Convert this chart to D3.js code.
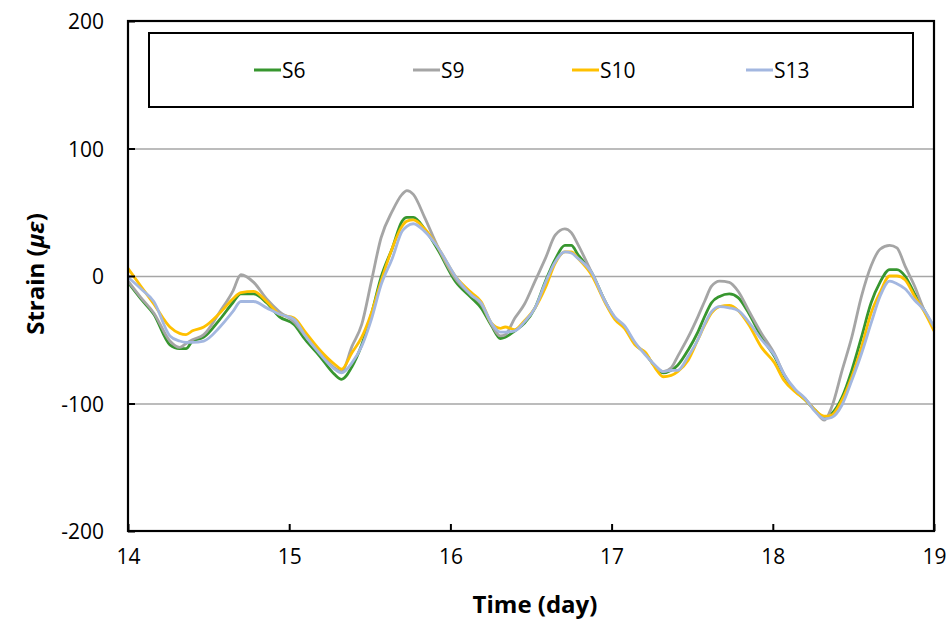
<!DOCTYPE html>
<html>
<head>
<meta charset="utf-8">
<script src="https://cdn.jsdelivr.net/npm/d3@7"></script>
<style>
body{margin:0;background:#fff;}
svg text{font-family:"Open Sans","Liberation Sans",sans-serif;fill:#000;}
</style>
</head>
<body>
<svg id="chart" width="952" height="622"></svg>
<script>
// time (day) sampled along the plot, and strain readings per gauge
var days = [14.00,14.08,14.16,14.26,14.32,14.36,14.40,14.47,14.57,14.65,14.70,14.78,14.86,14.94,15.03,15.10,15.19,15.28,15.325,15.39,15.45,15.51,15.57,15.64,15.70,15.73,15.77,15.84,15.925,16.03,16.13,16.19,16.255,16.31,16.34,16.40,16.46,16.525,16.59,16.65,16.71,16.75,16.79,16.875,16.96,17.02,17.08,17.145,17.21,17.27,17.32,17.37,17.41,17.475,17.535,17.58,17.62,17.67,17.73,17.785,17.85,17.93,18.01,18.07,18.14,18.20,18.26,18.32,18.365,18.43,18.49,18.55,18.61,18.665,18.725,18.77,18.82,18.88,18.94,19.00];

var S6  = [-5,-18,-30,-54,-57,-57,-51,-48,-34,-21,-14,-14,-21,-32,-38,-50,-63,-77,-81,-71,-54,-30,-1,22,43,46,46,37,20,-4,-17,-25,-39,-49,-48,-43,-37,-25,-4,13,24,24,17,3,-20,-33,-40,-53,-61,-71,-76,-74,-70,-58,-44,-31,-21,-16,-14,-17,-29,-48,-63,-78,-90,-97,-105,-111,-108,-95,-74,-48,-21,-5,5,5,0,-14,-27,-41];
var S9  = [-4,-17,-29,-51,-56,-53,-50,-46,-28,-12,1,-5,-18,-28,-36,-47,-60,-72,-75,-55,-38,-4,30,51,64,67,64,46,22,-2,-15,-22,-38,-47,-46,-33,-22,-4,14,32,37,34,25,3,-20,-33,-40,-53,-61,-71,-75,-72,-63,-48,-32,-19,-8,-4,-5,-12,-27,-45,-61,-77,-90,-96,-105,-113,-103,-74,-48,-16,8,21,24,22,8,-8,-27,-40];
var S10 = [6,-8,-22,-40,-45,-46,-43,-40,-29,-18,-13,-12,-20,-30,-33,-44,-58,-69,-73,-60,-48,-29,-4,22,39,43,44,37,22,0,-13,-20,-37,-41,-40,-42,-35,-25,-9,10,19,19,14,1,-21,-34,-41,-54,-60,-72,-79,-78,-75,-66,-50,-38,-29,-24,-23,-27,-38,-56,-68,-82,-91,-97,-105,-110,-109,-97,-79,-56,-29,-13,0,0,-3,-16,-28,-43];
var S13 = [-1,-10,-20,-47,-51,-52,-52,-51,-40,-28,-20,-20,-25,-30,-34,-47,-61,-73,-76,-68,-55,-34,-7,14,35,39,41,35,22,0,-15,-21,-37,-44,-44,-43,-36,-25,-5,11,19,18,14,3,-20,-32,-39,-52,-62,-70,-75,-74,-74,-63,-50,-37,-28,-24,-25,-27,-36,-50,-62,-77,-89,-96,-106,-112,-111,-101,-82,-61,-37,-16,-4,-6,-10,-19,-27,-40];

var seriesNames = ["S6","S9","S10","S13"];
var seriesValues = [S6,S9,S10,S13];
var seriesColors = ["#37962f","#a5a5a5","#ffc000","#a3b7e0"];
var xTicks = [14,15,16,17,18,19];
var yTicks = [-200,-100,0,100,200];

var svg = d3.select("#chart");

var x = d3.scaleLinear().domain([14,19]).range([128,934]);
var y = d3.scaleLinear().domain([-200,200]).range([531,21]);

// gridlines
svg.append("g")
	.selectAll("line")
	.data([-100,0,100])
	.enter()
	.append("line")
	.attr("x1",x(14)).attr("x2",x(19))
	.attr("y1",function(d){return y(d)+0.5;})
	.attr("y2",function(d){return y(d)+0.5;})
	.attr("stroke","#a6a6a6")
	.attr("stroke-width",1.3);

// series
var line = d3.line()
	.x(function(d){return x(d[0]);})
	.y(function(d){return y(d[1]);})
	.curve(d3.curveMonotoneX);

svg.append("g").selectAll("path")
	.data(seriesValues)
	.enter()
	.append("path")
	.attr("d",function(vals){return line(days.map(function(t,i){return [t,vals[i]];}));})
	.attr("fill","none")
	.attr("stroke",function(d,i){return seriesColors[i];})
	.attr("stroke-width",2.8)
	.attr("stroke-linejoin","round");

// axes, ticks pointing inside, plain hyphen for negatives
var fmt = function(d){return String(d);};
var xAxis = d3.axisBottom(x).tickValues(xTicks).tickSize(-7).tickPadding(18).tickFormat(fmt);
var yAxis = d3.axisLeft(y).tickValues(yTicks).tickSize(-7).tickPadding(24).tickFormat(fmt);

var gx = svg.append("g").attr("transform","translate(0,"+y(-200)+")").call(xAxis);
var gy = svg.append("g").attr("transform","translate("+x(14)+",0)").call(yAxis);
[gx,gy].forEach(function(g){
	g.select(".domain").remove();
	g.selectAll(".tick line").attr("stroke","#000").attr("stroke-width",2);
	g.selectAll("text").style("font-size","21px");
});
gy.selectAll("text").attr("dy","0.36em");

// plot frame
svg.append("rect")
	.attr("x",x(14)).attr("y",y(200))
	.attr("width",x(19)-x(14)).attr("height",y(-200)-y(200))
	.attr("fill","none").attr("stroke","#000").attr("stroke-width",2.2);

// axis titles
svg.append("text")
	.attr("x",535).attr("y",613)
	.attr("text-anchor","middle")
	.style("font-size","24px").style("font-weight","bold")
	.text("Time (day)");

var yt = svg.append("text")
	.attr("transform","translate(44,274) rotate(-90)")
	.attr("text-anchor","middle")
	.style("font-size","24px").style("font-weight","bold");
yt.append("tspan").text("Strain (");
yt.append("tspan").style("font-style","italic").text("με");
yt.append("tspan").text(")");

// legend
svg.append("rect")
	.attr("x",149).attr("y",33).attr("width",764).attr("height",74)
	.attr("fill","#fff").attr("stroke","#000").attr("stroke-width",2);

var legendX = [254,413,572,746];
var lg = svg.append("g").selectAll("g")
	.data(seriesNames)
	.enter()
	.append("g")
	.attr("transform",function(d,i){return "translate("+legendX[i]+",70)";});
lg.append("line")
	.attr("x1",0).attr("x2",27).attr("y1",0).attr("y2",0)
	.attr("stroke",function(d,i){return seriesColors[i];})
	.attr("stroke-width",3);
lg.append("text")
	.attr("x",28).attr("y",8)
	.style("font-size","21px")
	.text(function(d){return d;});
</script>
</body>
</html>
